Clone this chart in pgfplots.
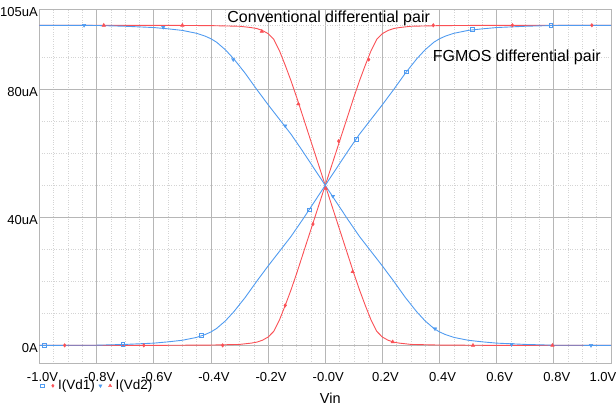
\documentclass[border=0pt]{standalone}
\usepackage{fontspec}
\setmainfont{Liberation Sans}
\usepackage{pgfplots}
\pgfplotsset{compat=1.18}
\definecolor{cvred}{RGB}{250,80,85}
\definecolor{fgblue}{RGB}{80,155,240}
\definecolor{gridmaj}{RGB}{182,182,182}
\definecolor{gridmin}{RGB}{212,212,212}

\begin{document}
\begin{tikzpicture}
\begin{axis}[
  at={(0,0)}, anchor=south west,
  scale only axis, width=571.5pt, height=354pt,
  xmin=-1, xmax=1, ymin=-5.6, ymax=105,
  axis line style={draw=gridmaj, line width=0.8pt},
  xtick={-1,-0.8,-0.6,-0.4,-0.2,0,0.2,0.4,0.6,0.8,1},
  xticklabels={-1.0V,-0.8V,-0.6V,-0.4V,-0.2V,-0.0V,0.2V,0.4V,0.6V,0.8V,1.0V\hspace*{22pt}},
  ytick={0,40,80,105},
  yticklabels={0A,40uA,80uA,105uA},
  minor xtick={-0.95,-0.9,-0.85,-0.75,-0.7,-0.65,-0.55,-0.5,-0.45,-0.35,-0.3,-0.25,
    -0.15,-0.1,-0.05,0.05,0.1,0.15,0.25,0.3,0.35,0.45,0.5,0.55,0.65,0.7,0.75,0.85,0.9,0.95},
  minor ytick={10,20,30,50,60,70,90,100},
  grid=both,
  major grid style={draw=gridmaj, line width=0.8pt},
  minor grid style={draw=gridmin, dotted, line width=0.6pt},
  major tick length=0pt, minor tick length=0pt,
  tick label style={font=\fontsize{13pt}{15pt}\selectfont},
  xticklabel style={anchor=base, yshift=-18pt, xshift=3pt},
  yticklabel style={anchor=east, inner sep=0pt, xshift=-1.5pt, yshift=-3pt},
  xlabel={Vin},
  xlabel style={at={(axis description cs:0.5,0)}, anchor=center, yshift=-35pt, xshift=5pt,
    font=\fontsize{14.5pt}{16pt}\selectfont},
  legend columns=2,
  legend cell align=left,
  legend style={at={(axis description cs:0,0)}, anchor=west, xshift=1.2pt, yshift=-22.5pt,
    draw=none, fill=none, inner sep=0pt, outer sep=0pt,
    font=\fontsize{13.5pt}{15pt}\selectfont,
    nodes={inner sep=0pt, outer sep=0pt},
    /tikz/every odd column/.style={column sep=4pt},
    /tikz/every even column/.style={column sep=4pt}},
  clip=false,
]
% conventional pair, I(Vd1)
\addplot[cvred, line width=0.9pt, forget plot] coordinates {
 (-1.00,0) (-0.60,0) (-0.40,0.1) (-0.30,0.3) (-0.26,0.7) (-0.24,1.0) (-0.22,1.6)
 (-0.20,2.6) (-0.18,4.4) (-0.16,8.0) (-0.14,12.5) (-0.12,17.3) (-0.10,22.5)
 (-0.08,28.0) (-0.06,33.5) (-0.04,39.0) (-0.02,44.5) (0.00,50) (0.02,55.5)
 (0.04,61) (0.06,66.5) (0.08,72) (0.10,77.5) (0.12,82.7) (0.14,87.5) (0.16,92)
 (0.18,95.6) (0.20,97.4) (0.22,98.4) (0.24,99.0) (0.26,99.3) (0.30,99.7)
 (0.40,99.9) (0.60,100) (1.00,100)};
% conventional pair, I(Vd2)
\addplot[cvred, line width=0.9pt, forget plot] coordinates {
 (-1.00,100) (-0.60,100) (-0.40,99.9) (-0.30,99.7) (-0.26,99.3) (-0.24,99.0)
 (-0.22,98.4) (-0.20,97.4) (-0.18,95.6) (-0.16,92) (-0.14,87.5) (-0.12,82.7)
 (-0.10,77.5) (-0.08,72) (-0.06,66.5) (-0.04,61) (-0.02,55.5) (0.00,50)
 (0.02,44.5) (0.04,39.0) (0.06,33.5) (0.08,28.0) (0.10,22.5) (0.12,17.3)
 (0.14,12.5) (0.16,8.0) (0.18,4.4) (0.20,2.6) (0.22,1.6) (0.24,1.0) (0.26,0.7)
 (0.30,0.3) (0.40,0.1) (0.60,0) (1.00,0)};
% FGMOS pair, I(Vd1)
\addplot[fgblue, line width=0.9pt, forget plot] coordinates {
 (-1.00,0) (-0.80,0.05) (-0.70,0.3) (-0.60,0.7) (-0.55,1.1) (-0.50,1.6) (-0.45,2.5)
 (-0.42,3.4) (-0.40,4.2) (-0.38,5.3) (-0.35,7.6) (-0.32,10.5) (-0.28,15.0)
 (-0.24,20.0) (-0.20,24.8) (-0.16,29.4) (-0.12,34.0) (-0.08,39.2) (-0.04,44.6)
 (0.00,50) (0.04,55.4) (0.08,60.8) (0.12,66.0) (0.16,70.6) (0.20,75.2) (0.24,80.0)
 (0.28,85.0) (0.32,89.5) (0.35,92.4) (0.38,94.7) (0.40,95.8) (0.42,96.6)
 (0.45,97.5) (0.50,98.4) (0.55,98.9) (0.60,99.3) (0.70,99.7) (0.80,99.95) (1.00,100)};
% FGMOS pair, I(Vd2)
\addplot[fgblue, line width=0.9pt, forget plot] coordinates {
 (-1.00,100) (-0.80,99.95) (-0.70,99.7) (-0.60,99.3) (-0.55,98.9) (-0.50,98.4)
 (-0.45,97.5) (-0.42,96.6) (-0.40,95.8) (-0.38,94.7) (-0.35,92.4) (-0.32,89.5)
 (-0.28,85.0) (-0.24,80.0) (-0.20,75.2) (-0.16,70.6) (-0.12,66.0) (-0.08,60.8)
 (-0.04,55.4) (0.00,50) (0.04,44.6) (0.08,39.2) (0.12,34.0) (0.16,29.4)
 (0.20,24.8) (0.24,20.0) (0.28,15.0) (0.32,10.5) (0.35,7.6) (0.38,5.3) (0.40,4.2)
 (0.42,3.4) (0.45,2.5) (0.50,1.6) (0.55,1.1) (0.60,0.7) (0.70,0.3) (0.80,0.05) (1.00,0)};
% markers
\addplot[only marks, fgblue, mark=square, mark size=1.8pt, line width=0.7pt, forget plot] coordinates {
 (-0.982,0) (-0.708,0.3) (-0.433,3.1) (-0.056,42.4) (0.109,64.3) (0.284,85.5) (0.515,98.7) (0.79,100)};
\addplot[only marks, fgblue, mark=triangle*, mark options={rotate=180}, mark size=2pt, forget plot] coordinates {
 (-0.844,100) (-0.567,99.4) (-0.322,89.3) (-0.14,68.6) (0.027,46.6) (0.384,5.2) (0.652,0.3) (0.93,0)};
\addplot[only marks, cvred, mark=diamond*, mark size=1.8pt, forget plot] coordinates {
 (-0.912,0) (-0.635,0) (-0.359,0) (-0.14,12.5) (-0.043,37.9) (0.047,63.8) (0.152,89.3) (0.378,100) (0.655,100) (0.933,100)};
\addplot[only marks, cvred, mark=triangle*, mark size=2pt, forget plot] coordinates {
 (-0.775,100) (-0.5,100) (-0.222,98.1) (-0.094,75.4) (0.002,49) (0.096,23) (0.236,1.1) (0.517,0) (0.795,0)};

\addlegendimage{legend image code/.code={
  \draw[fgblue, line width=0.6pt, mark=square, mark size=1.6pt] plot coordinates {(0pt,0pt)};
  \draw[cvred, mark=diamond*, mark size=1.6pt] plot coordinates {(10.6pt,0pt)};}}
\addlegendentry{I(Vd1)}
\addlegendimage{legend image code/.code={
  \draw[fgblue, mark=triangle*, mark options={rotate=180}, mark size=1.8pt] plot coordinates {(0pt,0pt)};
  \draw[cvred, mark=triangle*, mark size=1.8pt] plot coordinates {(9.7pt,0pt)};}}
\addlegendentry{I(Vd2)}

\node[anchor=base west, inner sep=0pt, font=\fontsize{16pt}{18pt}\selectfont]
  at (axis cs:-0.343,100.8) {Conventional differential pair};
\node[anchor=base west, inner sep=0pt, font=\fontsize{16pt}{18pt}\selectfont]
  at (axis cs:0.376,88.8) {FGMOS differential pair};
\end{axis}
\pgfresetboundingbox
\path[use as bounding box] (-39.5pt,-43.7pt) rectangle (576.5pt,363.3pt);
\end{tikzpicture}
\end{document}
